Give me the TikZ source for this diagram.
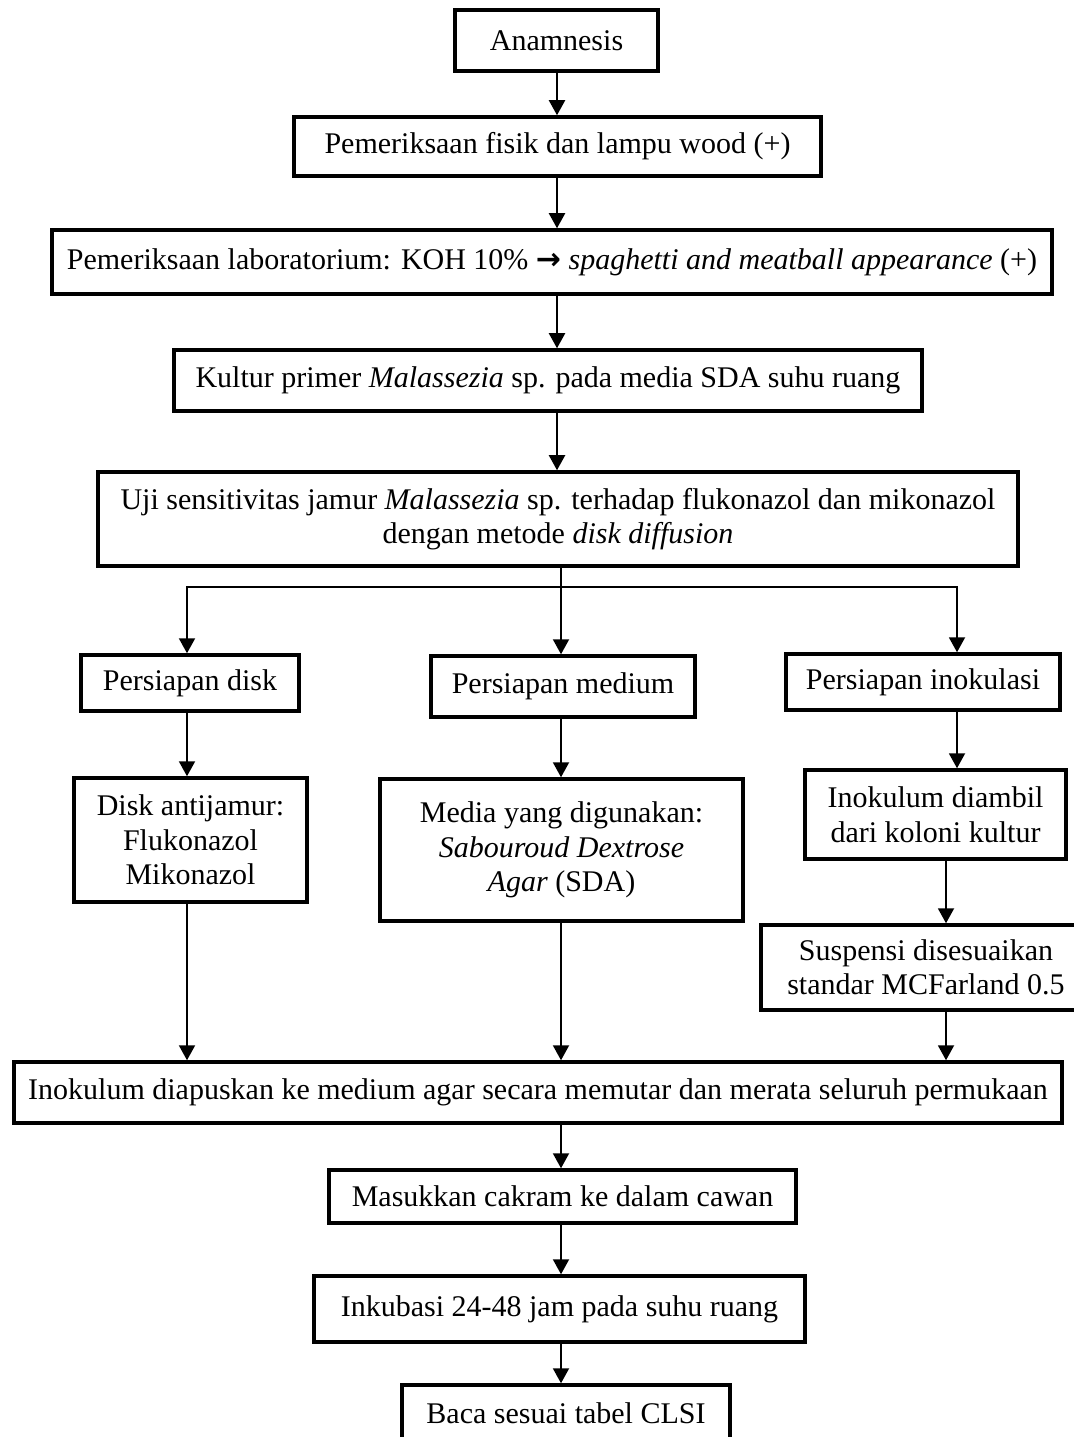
\documentclass[tikz,border=0pt]{standalone}
\usepackage{fontspec}
\setmainfont{Liberation Serif}
\newfontfamily\arrowfont{DejaVu Sans}
\usetikzlibrary{arrows.meta}

\begin{document}
\begin{tikzpicture}[x=0.4pt, y=-0.4pt,
  box/.style={draw=black, line width=1.4pt, align=center, inner sep=2pt,
    font=\fontsize{12}{13.8}\selectfont},
  arr/.style={line width=0.8pt, -{Triangle[length=6pt, width=6.4pt]}}]
\useasboundingbox (0,0) rectangle (1073,1437);
\coordinate (xtop) at (557,0);
\coordinate (xmid) at (561,0);
\coordinate (xleft) at (187,0);
\coordinate (xright) at (957,0);
\coordinate (xsusp) at (946,0);
\coordinate (split) at (561,587);
\node[box, minimum width=81.2pt, minimum height=24.4pt] (anam) at (556.5,40.5) {Anamnesis};
\node[box, minimum width=210.8pt, minimum height=23.6pt] (fisik) at (557.5,146.5) {Pemeriksaan fisik dan lampu wood (+)};
\node[box, minimum width=400pt, minimum height=25.6pt] (lab) at (552,262) {Pemeriksaan laboratorium: KOH 10\% {\arrowfont\bfseries →} \textit{spaghetti and meatball appearance} (+)};
\node[box, minimum width=299.2pt, minimum height=24.4pt] (kultur) at (548,380.5) {Kultur primer \textit{Malassezia} sp. pada media SDA suhu ruang};
\node[box, minimum width=368pt, minimum height=37.6pt] (uji) at (558,519) {Uji sensitivitas jamur \textit{Malassezia} sp. terhadap flukonazol dan mikonazol\\dengan metode \textit{disk diffusion}};
\node[box, minimum width=87.2pt, minimum height=22.4pt] (disk) at (190,683) {Persiapan disk};
\node[box, minimum width=105.6pt, minimum height=24.4pt] (medium) at (563,686.5) {Persiapan medium};
\node[box, minimum width=109.6pt, minimum height=22.4pt] (inok) at (923,682) {Persiapan inokulasi};
\node[box, minimum width=93.2pt, minimum height=49.6pt] (antijamur) at (190.5,840) {Disk antijamur:\\Flukonazol\\Mikonazol};
\node[box, minimum width=145.2pt, minimum height=56.8pt] (media) at (561.5,850) {Media yang digunakan:\\\textit{Sabouroud Dextrose}\\\textit{Agar} (SDA)};
\node[box, minimum width=104.4pt, minimum height=35.6pt] (diambil) at (935.5,814.5) {Inokulum diambil\\dari koloni kultur};
\node[box, minimum width=132pt, minimum height=34pt] (suspensi) at (926,967.5) {Suspensi disesuaikan\\standar MCFarland 0.5};
\node[box, minimum width=419.2pt, minimum height=24.4pt] (ratakan) at (538,1092.5) {Inokulum diapuskan ke medium agar secara memutar dan merata seluruh permukaan};
\node[box, minimum width=186.8pt, minimum height=21.2pt] (cakram) at (562.5,1196.5) {Masukkan cakram ke dalam cawan};
\node[box, minimum width=196.4pt, minimum height=26.4pt] (inkubasi) at (559.5,1309) {Inkubasi 24-48 jam pada suhu ruang};
\node[box, minimum width=131.2pt, minimum height=22.8pt] (baca) at (566,1413.5) {Baca sesuai tabel CLSI};
\draw[arr] (anam.south -| xtop) -- (fisik.north -| xtop);
\draw[arr] (fisik.south -| xtop) -- (lab.north -| xtop);
\draw[arr] (lab.south -| xtop) -- (kultur.north -| xtop);
\draw[arr] (kultur.south -| xtop) -- (uji.north -| xtop);
\draw[arr] (uji.south -| xmid) -- (medium.north -| xmid);
\draw[arr] (split) -| (disk.north -| xleft);
\draw[arr] (split) -| (inok.north -| xright);
\draw[arr] (disk.south -| xleft) -- (antijamur.north -| xleft);
\draw[arr] (medium.south -| xmid) -- (media.north -| xmid);
\draw[arr] (inok.south -| xright) -- (diambil.north -| xright);
\draw[arr] (diambil.south -| xsusp) -- (suspensi.north -| xsusp);
\draw[arr] (antijamur.south -| xleft) -- (ratakan.north -| xleft);
\draw[arr] (media.south -| xmid) -- (ratakan.north -| xmid);
\draw[arr] (suspensi.south -| xsusp) -- (ratakan.north -| xsusp);
\draw[arr] (ratakan.south -| xmid) -- (cakram.north -| xmid);
\draw[arr] (cakram.south -| xmid) -- (inkubasi.north -| xmid);
\draw[arr] (inkubasi.south -| xmid) -- (baca.north -| xmid);
\end{tikzpicture}
\end{document}
